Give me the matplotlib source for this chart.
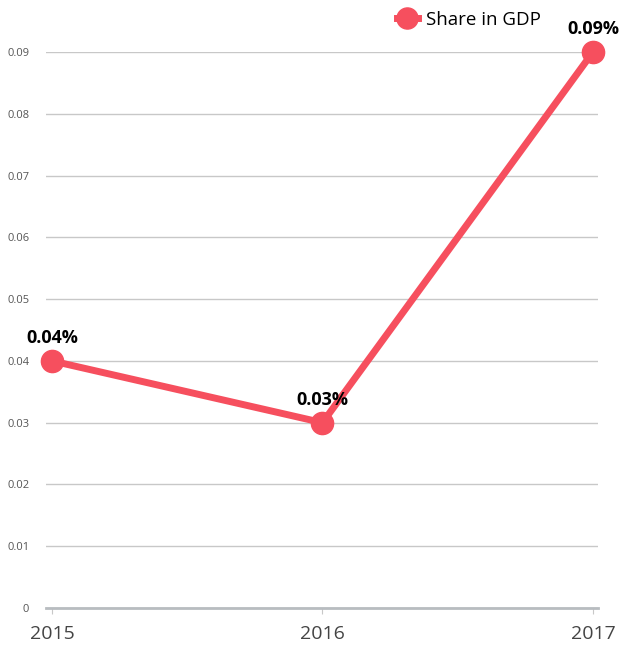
import matplotlib.pyplot as plt

years = ['2015', '2016', '2017']
share = [0.04, 0.03, 0.09]
labels = ['0.04%', '0.03%', '0.09%']
yticks = [0, 0.01, 0.02, 0.03, 0.04, 0.05, 0.06, 0.07, 0.08, 0.09]

red = '#f64f5e'
plt.rcParams['font.family'] = ['Open Sans', 'DejaVu Sans']

fig = plt.figure(figsize=(6.2, 6.5), dpi=100)
ax = fig.add_axes([46 / 620, 42 / 650, 552 / 620, 556 / 650])

x = range(len(years))
ax.plot(x, share, color=red, lw=5, marker='o', ms=16, clip_on=False, zorder=3, label='Share in GDP')

for xi, v, t in zip(x, share, labels):
    ax.annotate(t, (xi, v), xytext=(0, 10), textcoords='offset points', ha='center', va='bottom',
                fontsize=13, fontweight='bold', color='black')

ax.set_xlim(-0.022, 2.0185)
ax.set_ylim(0, 0.09)
ax.set_yticks(yticks)
ax.set_yticklabels(['0'] + ['%.2f' % t for t in yticks[1:]])
ax.set_xticks(list(x))
ax.set_xticklabels(years)
ax.grid(axis='y', color='#c8c8c8', lw=1)
ax.set_axisbelow(True)
for s in ['top', 'right', 'left']:
    ax.spines[s].set_visible(False)
ax.spines['bottom'].set_color('#b8bcc0')
ax.spines['bottom'].set_linewidth(2)
ax.tick_params(axis='y', length=0, labelsize=8, colors='#555555', pad=12)
ax.tick_params(axis='x', length=4, color='#c8c8c8', labelsize=14, labelcolor='#444444', pad=8)

fig.legend(loc='center left', bbox_to_anchor=(397 / 620, 1 - 20 / 650), frameon=False, fontsize=13.5,
           handlelength=1.1, handletextpad=0.45, markerscale=0.95, borderaxespad=0, borderpad=0)

fig.savefig('out.png', dpi=100)
